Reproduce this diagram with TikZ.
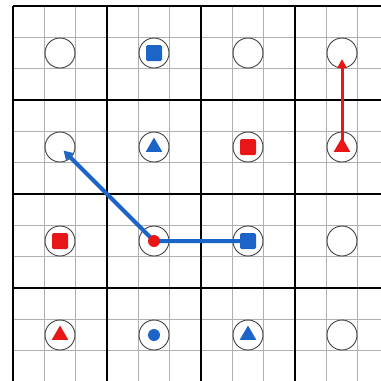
\documentclass[tikz,border=0pt]{standalone}
\usetikzlibrary{shapes.geometric,arrows.meta}
\definecolor{mblue}{RGB}{28,100,200}
\definecolor{mred}{RGB}{232,22,22}
\definecolor{gridthin}{RGB}{175,175,175}
\begin{document}
\begin{tikzpicture}[x=1pt,y=-1pt,
  slot/.style={circle,draw=black!75,fill=white,line width=0.9pt,minimum size=30pt,inner sep=0pt},
  sqmark/.style={rectangle,minimum size=16pt,inner sep=0pt,rounded corners=1.5pt},
  trimark/.style={regular polygon,regular polygon sides=3,minimum size=19pt,inner sep=0pt},
  dotmark/.style={circle,minimum size=12pt,inner sep=0pt},
  thinline/.style={gridthin,line width=0.8pt},
  thickline/.style={black,line width=2.4pt},
  bluepath/.style={mblue,line width=4pt,line join=round,-{Triangle[length=9pt,width=10pt]},shorten >=5pt},
  redpath/.style={mred,line width=3pt,-{Triangle[length=9pt,width=9pt]},shorten >=6pt}]
\fill[white] (0,0) rectangle (381,381);
\useasboundingbox (0,0) rectangle (381,381);
\begin{scope}
\clip (0,0) rectangle (381,381);
\foreach \i in {0,...,12} {
  \draw[thinline] ({13+\i*94/3},6) -- ({13+\i*94/3},390);
  \draw[thinline] (13,{6+\i*94/3}) -- (390,{6+\i*94/3});
}
\foreach \k in {0,...,4} {
  \draw[thickline] ({13+\k*94},6) -- ({13+\k*94},390);
  \draw[thickline] (13,{6+\k*94}) -- (390,{6+\k*94});
}
\end{scope}
% slots
\foreach \r in {0,...,3} {
  \foreach \c in {0,...,3} {
    \node[slot] (s\r\c) at ({60+\c*94},{53+\r*94}) {};
  }
}
% connectors
\draw[bluepath] (s22.center) -- (s21.center) -- (s10.center);
\draw[redpath] (s13.center) -- (s03.center);
% markers
\node[sqmark,fill=mblue] (m01) at (s01.center) {};
\node[trimark,fill=mblue] (m11) at (s11.center) {};
\node[sqmark,fill=mred] (m12) at (s12.center) {};
\node[trimark,fill=mred] (m13) at (s13.center) {};
\node[sqmark,fill=mred] (m20) at (s20.center) {};
\node[dotmark,fill=mred] (m21) at (s21.center) {};
\node[sqmark,fill=mblue] (m22) at (s22.center) {};
\node[trimark,fill=mred] (m30) at (s30.center) {};
\node[dotmark,fill=mblue] (m31) at (s31.center) {};
\node[trimark,fill=mblue] (m32) at (s32.center) {};
\end{tikzpicture}
\end{document}
